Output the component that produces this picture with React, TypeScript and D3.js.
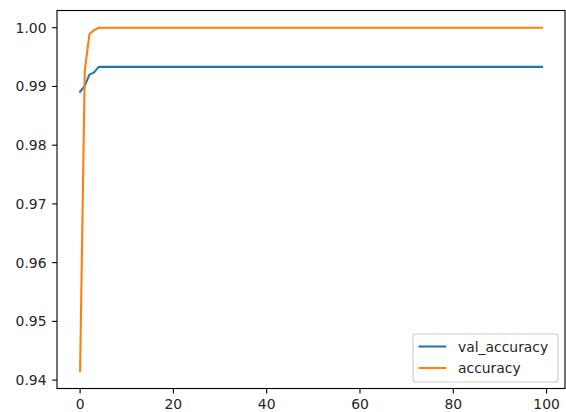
import React from "react";
import * as d3 from "d3";

const epochs: number[] = Array.from({ length: 100 }, (_, i) => i);
const accuracyHead: number[] = [0.9415, 0.9927, 0.9989, 0.9996];
const accuracyTail = 1.0;
const valAccuracyHead: number[] = [0.9891, 0.9901, 0.992, 0.9924];
const valAccuracyTail = 0.99333;
const accuracy: number[] = epochs.map((e) => (e < accuracyHead.length ? accuracyHead[e] : accuracyTail));
const valAccuracy: number[] = epochs.map((e) => (e < valAccuracyHead.length ? valAccuracyHead[e] : valAccuracyTail));
const xTicks: number[] = [0, 20, 40, 60, 80, 100];
const yTicks: number[] = [0.94, 0.95, 0.96, 0.97, 0.98, 0.99, 1.0];
const seriesNames: string[] = ["val_accuracy", "accuracy"];
const colors: string[] = ["#1f77b4", "#ff7f0e"];

export default function App() {
  const W = 566, H = 412;
  const left = 57, right = 565, top = 10.5, bottom = 388.5;
  const x = d3.scaleLinear().domain([-4.95, 103.95]).range([left, right]);
  const y = d3.scaleLinear().domain([0.93857, 1.00293]).range([bottom, top]);
  const line = d3.line<number>().x((_, i) => x(epochs[i])).y((d) => y(d));
  const font = "DejaVu Sans";
  const fs = 13.9;
  const series = [valAccuracy, accuracy];
  const lx = 413, ly = 334, lw = 145, lh = 48;
  return (
    <svg width={W} height={H} style={{ position: "absolute", left: 0, top: 0 }}>
      <rect x={0} y={0} width={W} height={H} fill="#fff" />
      {series.map((s, k) => (
        <path key={k} d={line(s) || ""} fill="none" stroke={colors[k]} strokeWidth={2.08} strokeLinejoin="round" strokeLinecap="square" />
      ))}
      <rect x={left} y={top} width={right - left} height={bottom - top} fill="none" stroke="#000" strokeWidth={1.1} />
      {xTicks.map((t) => (
        <g key={t}>
          <line x1={x(t)} x2={x(t)} y1={bottom} y2={bottom + 4.9} stroke="#000" strokeWidth={1.1} />
          <text x={x(t)} y={bottom + 20} textAnchor="middle" fontFamily={font} fontSize={fs} fill="#262626">{t}</text>
        </g>
      ))}
      {yTicks.map((t) => (
        <g key={t}>
          <line x1={left - 4.9} x2={left} y1={y(t)} y2={y(t)} stroke="#000" strokeWidth={1.1} />
          <text x={left - 10.5} y={y(t) + 5} textAnchor="end" fontFamily={font} fontSize={fs} fill="#262626">{t.toFixed(2)}</text>
        </g>
      ))}
      <rect x={lx} y={ly} width={lw} height={lh} rx={2.8} fill="#fff" fillOpacity={0.8} stroke="#ccc" strokeWidth={1.1} />
      {seriesNames.map((n, k) => (
        <g key={n}>
          <line x1={lx + 5.5} x2={lx + 33.3} y1={ly + 12.5 + k * 21.5} y2={ly + 12.5 + k * 21.5} stroke={colors[k]} strokeWidth={2.08} />
          <text x={lx + 45} y={ly + 17.5 + k * 21.5} fontFamily={font} fontSize={fs} fill="#262626">{n}</text>
        </g>
      ))}
    </svg>
  );
}
